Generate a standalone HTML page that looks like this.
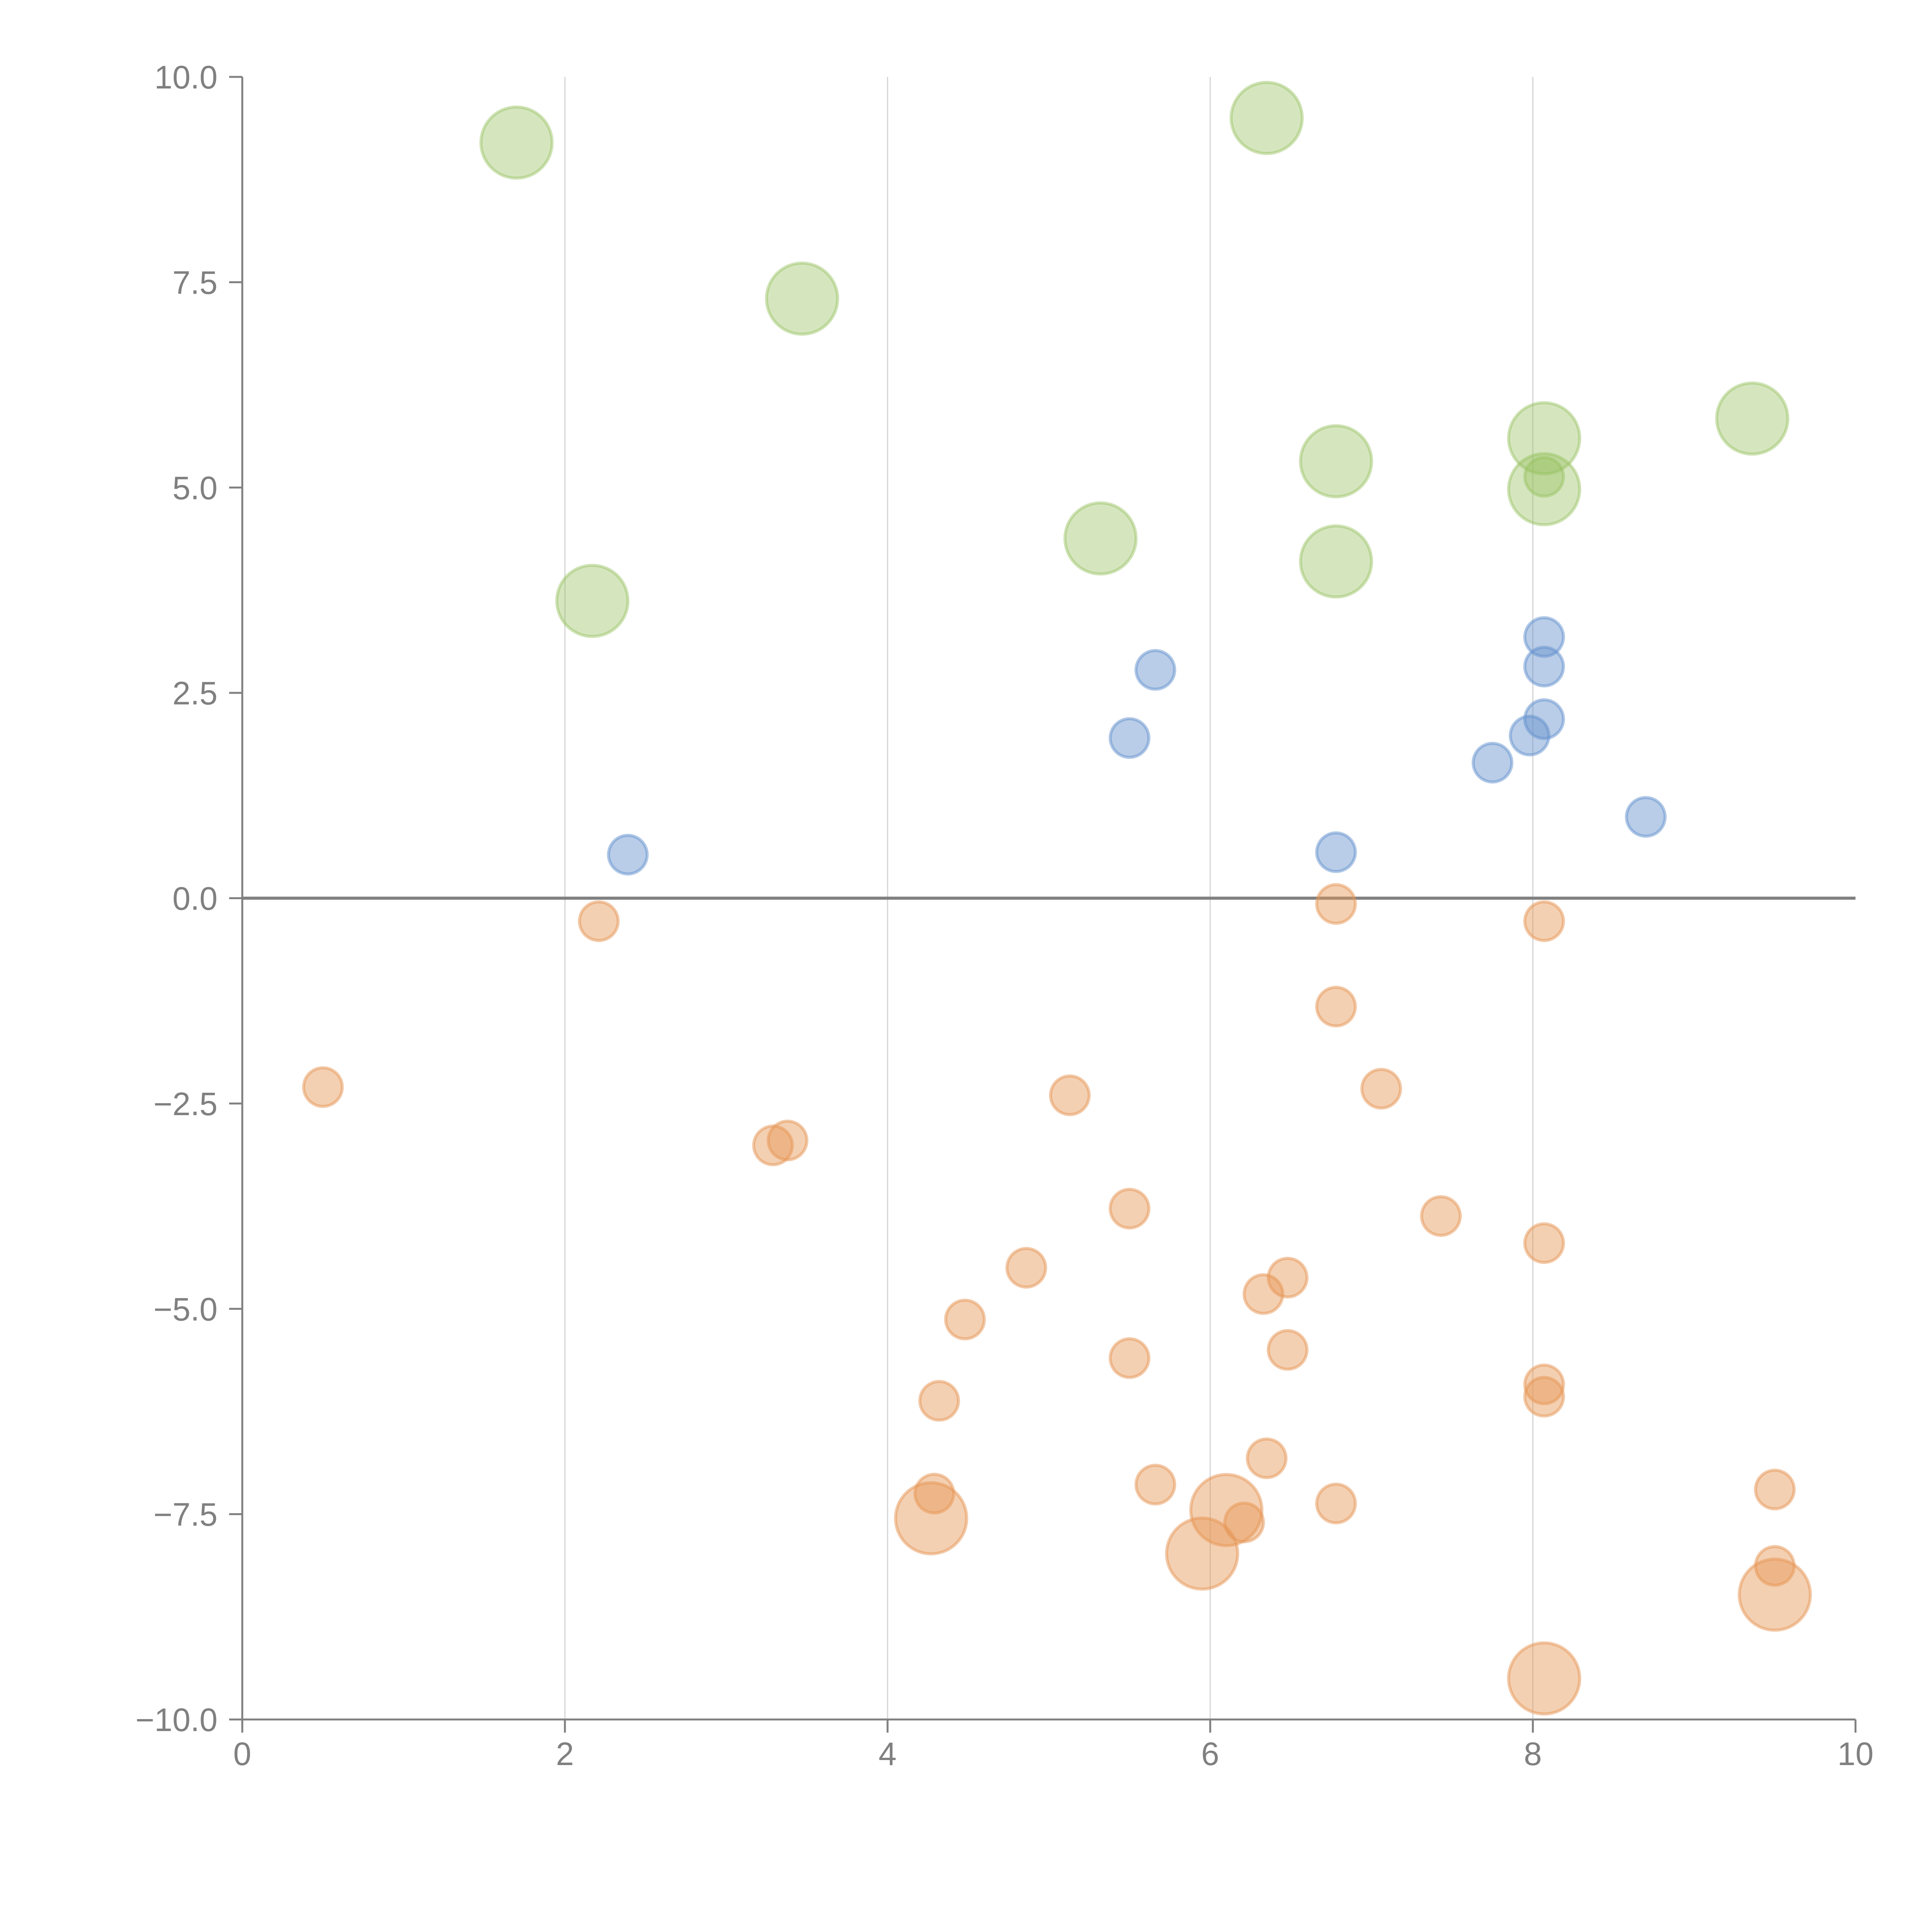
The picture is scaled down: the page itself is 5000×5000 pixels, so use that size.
<!DOCTYPE html>
<html><head><meta charset="utf-8"><style>html,body{margin:0;padding:0;background:#fff}svg{display:block}</style></head>
<body>
<svg id="chart" width="5000" height="5000" viewBox="0 0 5000 5000" xmlns="http://www.w3.org/2000/svg" font-family="Liberation Sans, sans-serif">
<g id="grid"></g>
<g id="axes"></g>
<g id="marks"></g>
</svg>
<script>
const xTicks = [0, 2, 4, 6, 8, 10];
const yTicks = [-10, -7.5, -5, -2.5, 0, 2.5, 5, 7.5, 10];
const greenX = [1.7, 3.47, 6.35, 2.17, 5.32, 6.78, 6.78, 8.07, 8.07, 9.36];
const greenY = [9.2, 7.3, 9.5, 3.62, 4.38, 5.32, 4.1, 5.6, 4.98, 5.84];
const greenSmallX = [8.07];
const greenSmallY = [5.13];
const blueX = [2.39, 5.5, 5.66, 6.78, 7.75, 7.98, 8.07, 8.07, 8.07, 8.7];
const blueY = [0.53, 1.95, 2.78, 0.56, 1.65, 1.98, 3.18, 2.82, 2.18, 0.99];
const orangeX = [0.5, 2.21, 3.29, 3.38, 4.29, 4.32, 4.48, 4.86, 5.13, 5.5, 5.5, 5.66, 6.21, 6.33, 6.35, 6.48, 6.48, 6.78, 6.78, 6.78, 7.06, 7.43, 8.07, 8.07, 8.07, 8.07, 9.5, 9.5];
const orangeY = [-2.3, -0.28, -3.01, -2.95, -7.25, -6.12, -5.13, -4.5, -2.4, -3.78, -5.6, -7.14, -7.6, -4.82, -6.82, -4.62, -5.5, -0.07, -1.32, -7.37, -2.32, -3.87, -0.28, -4.2, -5.92, -6.07, -7.2, -8.13];
const orangeBigX = [4.27, 6.1, 5.95, 9.5, 8.07];
const orangeBigY = [-7.55, -7.45, -7.98, -8.48, -9.5];

const X0 = 627, X1 = 4802, Y0 = 4450, Y1 = 199;
const sx = v => X0 + (v - 0) / 10 * (X1 - X0);
const sy = v => Y0 - (v + 10) / 20 * (Y0 - Y1);
const NS = 'http://www.w3.org/2000/svg';
function mk(tag, attrs, parent) {
  const e = document.createElementNS(NS, tag);
  for (const k in attrs) e.setAttribute(k, attrs[k]);
  parent.appendChild(e);
  return e;
}
const grid = document.getElementById('grid');
const axes = document.getElementById('axes');
const marks = document.getElementById('marks');

xTicks.forEach(t => {
  if (t > 0 && t < 10) {
    const g = mk('line', {x1: sx(t), x2: sx(t), y1: Y1, y2: Y0, stroke: '#d4d4d4', 'stroke-width': 3}, grid);
    
    
  }
  const tk = mk('line', {x1: sx(t), x2: sx(t), y1: Y0, y2: Y0 + 34, stroke: '#808080', 'stroke-width': 5}, axes);
  
  
  const lb = mk('text', {x: sx(t), y: 4568, 'text-anchor': 'middle', 'font-size': 84, fill: '#808080'}, axes);
  lb.textContent = String(t);
  
  
});
yTicks.forEach(t => {
  const tk = mk('line', {x1: X0 - 34, x2: X0, y1: sy(t), y2: sy(t), stroke: '#808080', 'stroke-width': 5}, axes);
  
  
  const lb = mk('text', {x: 563, y: sy(t) + 30, 'text-anchor': 'end', 'font-size': 84, fill: '#808080'}, axes);
  lb.textContent = (t < 0 ? '\u2212' : '') + Math.abs(t).toFixed(1);
  
  
});
const ya = mk('line', {x1: X0, x2: X0, y1: Y1, y2: Y0, stroke: '#808080', 'stroke-width': 5}, axes);


const xa = mk('line', {x1: X0, x2: X1, y1: Y0, y2: Y0, stroke: '#808080', 'stroke-width': 5}, axes);


const zl = mk('line', {x1: X0, x2: X1, y1: sy(0), y2: sy(0), stroke: '#808080', 'stroke-width': 8}, axes);



function series(xs, ys, r, fill, stroke, name) {
  xs.forEach((x, i) => {
    const c = mk('circle', {cx: sx(x), cy: sy(ys[i]), r: r, fill: fill, stroke: stroke, 'stroke-width': 8}, marks);
    
    
  });
}
series(greenX, greenY, 92, 'rgba(150,192,95,0.4)', 'rgba(150,192,95,0.45)', 'green-bubble');
series(greenSmallX, greenSmallY, 50, 'rgba(150,192,95,0.4)', 'rgba(150,192,95,0.45)', 'green-bubble-small');
series(blueX, blueY, 50, 'rgba(100,145,205,0.45)', 'rgba(100,145,205,0.5)', 'blue-bubble');
series(orangeX, orangeY, 50, 'rgba(230,150,85,0.45)', 'rgba(230,150,85,0.5)', 'orange-bubble');
series(orangeBigX, orangeBigY, 92, 'rgba(230,150,85,0.45)', 'rgba(230,150,85,0.5)', 'orange-bubble-large');
</script>
</body></html>
